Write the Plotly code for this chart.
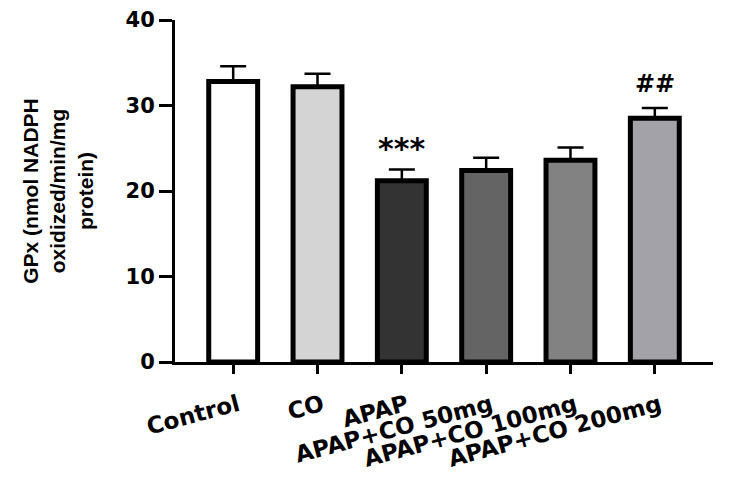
import plotly.graph_objects as go

categories = ["Control", "CO", "APAP", "APAP+CO 50mg", "APAP+CO 100mg", "APAP+CO 200mg"]
values = [32.8, 32.2, 21.2, 22.4, 23.6, 28.5]
errors = [1.8, 1.5, 1.3, 1.5, 1.5, 1.2]
colors = ["#ffffff", "#d4d4d4", "#333333", "#646464", "#828282", "#a2a2a8"]
marks = ["", "", "***", "", "", "##"]

TICKFONT = "DejaVu Sans"
fig = go.Figure()
fig.add_trace(go.Bar(
    x=categories, y=values,
    marker=dict(color=colors, line=dict(color="black", width=5)),
    width=0.58,
    error_y=dict(type="data", array=errors, arrayminus=[0]*len(errors), symmetric=False,
                 color="black", thickness=2.5, width=13),
))
for c, v, e, m in zip(categories, values, errors, marks):
    if m:
        fig.add_annotation(x=c, y=v + e, text=m, showarrow=False, yanchor="bottom",
                           yshift=(2 if m.startswith("*") else 8),
                           font=dict(family=TICKFONT, size=(30 if m.startswith("*") else 24),
                                     color="black", weight="bold"))

fig.update_layout(
    width=747, height=476,
    margin=dict(l=167, r=42, t=12, b=122),
    plot_bgcolor="white", paper_bgcolor="white",
    showlegend=False,
    font=dict(family="Liberation Sans", color="black"),
    xaxis=dict(
        range=[-0.69, 5.69], showline=True, linecolor="black", linewidth=3,
        ticks="outside", ticklen=9, tickwidth=3, tickcolor="black", automargin=False,
        tickangle=-15, tickfont=dict(size=23, family=TICKFONT, weight="bold"),
        ticklabelstandoff=9, ticklabelshift=5,
        showgrid=False,
    ),
    yaxis=dict(
        range=[0, 40], tickvals=[0, 10, 20, 30, 40], showline=True, linecolor="black", linewidth=3,
        ticks="outside", ticklen=13, tickwidth=3, tickcolor="black", automargin=False,
        tickfont=dict(size=21, family=TICKFONT, weight="bold"),
        showgrid=False, zeroline=False,
        title=dict(text="GPx (nmol NADPH<br>oxidized/min/mg<br>protein)",
                   font=dict(size=21, family="Liberation Sans", weight="bold"), standoff=27),
    ),
)
fig.write_html("out.html")
